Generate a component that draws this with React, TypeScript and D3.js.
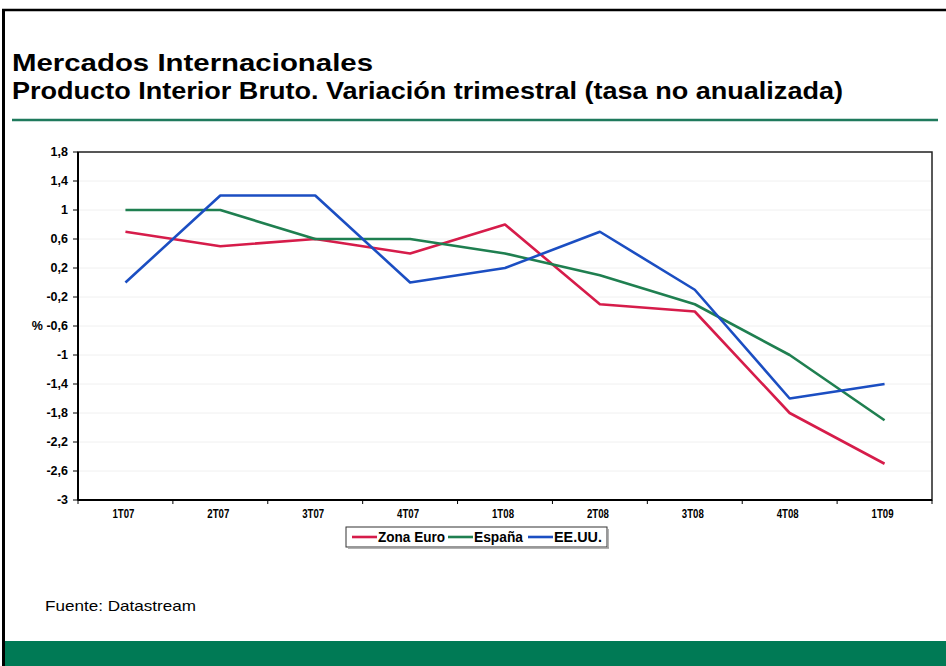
import React from 'react';
import * as d3 from 'd3';

const quarters = ['1T07', '2T07', '3T07', '4T07', '1T08', '2T08', '3T08', '4T08', '1T09'];
const zonaEuro = [0.7, 0.5, 0.6, 0.4, 0.8, -0.3, -0.4, -1.8, -2.5];
const espana = [1.0, 1.0, 0.6, 0.6, 0.4, 0.1, -0.3, -1.0, -1.9];
const eeuu = [0.0, 1.2, 1.2, 0.0, 0.2, 0.7, -0.1, -1.6, -1.4];
const yTicks = [1.8, 1.4, 1, 0.6, 0.2, -0.2, -0.6, -1, -1.4, -1.8, -2.2, -2.6, -3];

const seriesNames = ['Zona Euro', 'España', 'EE.UU.'];
const seriesColors = ['#d61c4a', '#1f7f50', '#1b4ec2'];

const W = 946;
const H = 666;
const plot = { left: 78, right: 932, top: 152, bottom: 500 };
const font = '"Liberation Sans", Arial, sans-serif';

export default function App() {
  const x = d3.scaleBand().domain(quarters).range([plot.left, plot.right]).padding(0);
  const y = d3.scaleLinear().domain([-3, 1.8]).range([plot.bottom, plot.top]);
  const cx = (q: string) => (x(q) as number) + x.bandwidth() / 2;

  const line = d3
    .line<[string, number]>()
    .x(d => cx(d[0]))
    .y(d => y(d[1]));

  const series = [zonaEuro, espana, eeuu].map((vals, i) => ({
    name: seriesNames[i],
    color: seriesColors[i],
    points: quarters.map((q, j) => [q, vals[j]] as [string, number])
  }));

  const fmt = (v: number) => String(v).replace('.', ',');
  const boundaries = quarters.map(q => x(q) as number).concat([plot.right]);

  // legend layout
  const legend = { x: 346, y: 527, w: 261, h: 20 };
  const legendItems = [
    { sx: 352, tx: 378, tw: 67 },
    { sx: 448, tx: 474, tw: 49 },
    { sx: 528, tx: 554, tw: 48 }
  ];

  return (
    <svg
      width={W}
      height={H}
      style={{ position: 'absolute', left: 0, top: 0, background: '#fff' }}
      fontFamily={font}
    >
      <rect x={0} y={0} width={W} height={H} fill="#fff" />
      {/* slide frame */}
      <line x1={2} x2={W} y1={10} y2={10} stroke="#000" strokeWidth={2.5} />
      <line x1={3.5} x2={3.5} y1={9} y2={H} stroke="#000" strokeWidth={3} />
      <rect x={5} y={641} width={W - 5} height={H - 641} fill="#007a55" />

      {/* titles */}
      <text x={12} y={71} fontSize={24} fontWeight="bold" textLength={361} lengthAdjust="spacingAndGlyphs">
        Mercados Internacionales
      </text>
      <text x={12} y={99} fontSize={23} fontWeight="bold" textLength={831} lengthAdjust="spacingAndGlyphs">
        Producto Interior Bruto. Variación trimestral (tasa no anualizada)
      </text>
      <line x1={12} x2={938} y1={120} y2={120} stroke="#1f7a5c" strokeWidth={2.5} />

      {/* grid */}
      {yTicks.map(t => (
        <line key={'g' + t} x1={plot.left} x2={plot.right} y1={y(t)} y2={y(t)} stroke="#f0f0f0" strokeWidth={1} />
      ))}

      {/* plot frame */}
      <rect
        x={plot.left}
        y={plot.top}
        width={plot.right - plot.left}
        height={plot.bottom - plot.top}
        fill="none"
        stroke="#222"
        strokeWidth={1.5}
      />
      <line x1={plot.left} x2={plot.left} y1={plot.top} y2={plot.bottom} stroke="#000" strokeWidth={2} />
      <line x1={plot.left} x2={plot.right} y1={plot.bottom} y2={plot.bottom} stroke="#000" strokeWidth={2} />

      {/* y axis */}
      {yTicks.map(t => (
        <g key={'y' + t}>
          <line x1={plot.left - 5} x2={plot.left} y1={y(t)} y2={y(t)} stroke="#000" strokeWidth={1} />
          <text x={plot.left - 10} y={y(t)} dy="0.35em" textAnchor="end" fontSize={12.5} fontWeight="bold">
            {t === -0.6 ? '% ' + fmt(t) : fmt(t)}
          </text>
        </g>
      ))}

      {/* x axis */}
      {boundaries.map((b, i) => (
        <line key={'xt' + i} x1={b} x2={b} y1={plot.bottom} y2={plot.bottom + 4} stroke="#000" strokeWidth={1} />
      ))}
      {quarters.map(q => (
        <text key={'x' + q} x={cx(q) - 2} y={518} textAnchor="middle" fontSize={12} fontWeight="bold" textLength={22} lengthAdjust="spacingAndGlyphs">
          {q}
        </text>
      ))}

      {/* lines */}
      {series.map(s => (
        <path key={s.name} d={line(s.points) || ''} fill="none" stroke={s.color} strokeWidth={2.6} strokeLinejoin="round" />
      ))}

      {/* legend */}
      <rect x={legend.x} y={legend.y} width={legend.w} height={legend.h} fill="#fff" stroke="#333" strokeWidth={1} />
      <line x1={legend.x + 2} x2={legend.x + legend.w + 2} y1={legend.y + legend.h + 1} y2={legend.y + legend.h + 1} stroke="#999" strokeWidth={1.5} />
      <line x1={legend.x + legend.w + 1} x2={legend.x + legend.w + 1} y1={legend.y + 2} y2={legend.y + legend.h + 1} stroke="#999" strokeWidth={1.5} />
      {series.map((s, i) => (
        <g key={'l' + s.name}>
          <line
            x1={legendItems[i].sx}
            x2={legendItems[i].sx + 25}
            y1={legend.y + legend.h / 2}
            y2={legend.y + legend.h / 2}
            stroke={s.color}
            strokeWidth={2.6}
          />
          <text
            x={legendItems[i].tx}
            y={legend.y + legend.h / 2}
            dy="0.36em"
            fontSize={14}
            fontWeight="bold"
            textLength={legendItems[i].tw}
            lengthAdjust="spacingAndGlyphs"
          >
            {s.name}
          </text>
        </g>
      ))}

      {/* source */}
      <text x={45} y={611} fontSize={15} textLength={151} lengthAdjust="spacingAndGlyphs">
        Fuente: Datastream
      </text>
    </svg>
  );
}
